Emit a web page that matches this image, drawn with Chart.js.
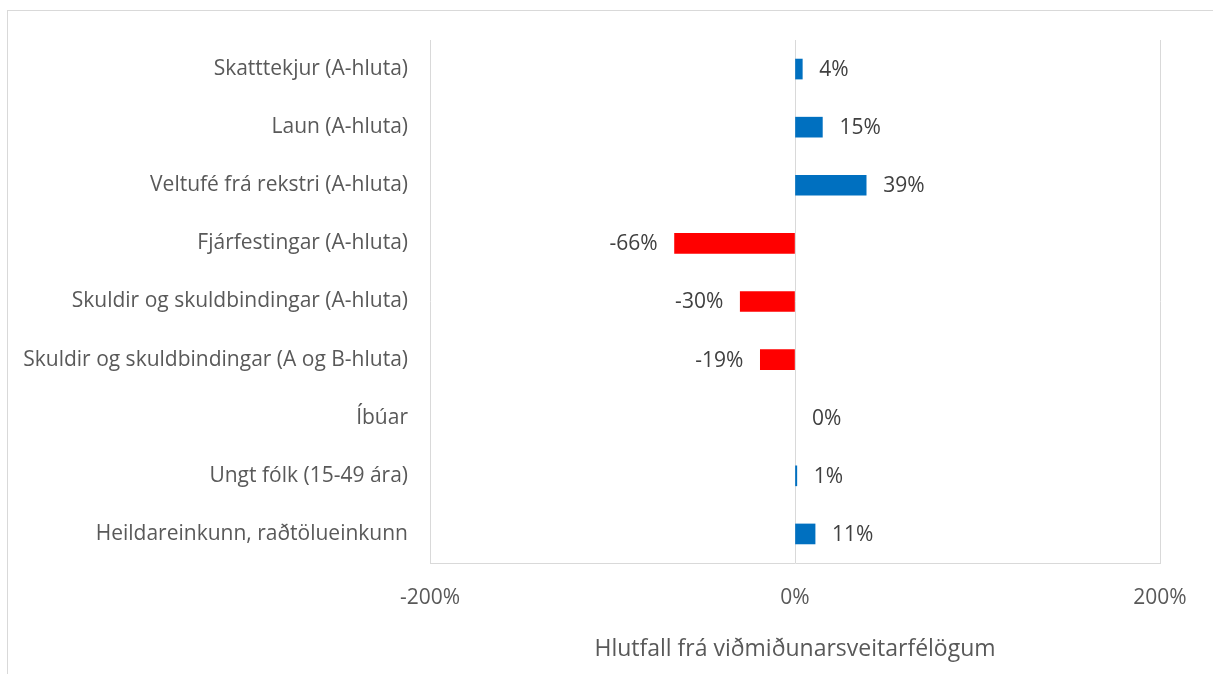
<!DOCTYPE html>
<html>
<head>
<meta charset="utf-8">
<script src="https://cdn.jsdelivr.net/npm/chart.js@4.4.1/dist/chart.umd.min.js"></script>
<style>
  html, body { margin: 0; padding: 0; background: #fff; }
  #frame {
    position: absolute; left: 7px; top: 10px; width: 1220px; height: 680px;
    border-left: 1px solid #d9d9d9; border-top: 1px solid #d9d9d9;
  }
  #wrap { position: absolute; left: 0; top: 0; width: 1213px; height: 674px; }
</style>
</head>
<body>
<div id="frame"></div>
<div id="wrap"><canvas id="chart"></canvas></div>
<script>
// categories, top to bottom
const categories = [
    'Skatttekjur (A-hluta)',
    'Laun (A-hluta)',
    'Veltufé frá rekstri (A-hluta)',
    'Fjárfestingar (A-hluta)',
    'Skuldir og skuldbindingar (A-hluta)',
    'Skuldir og skuldbindingar (A og B-hluta)',
    'Íbúar',
    'Ungt fólk (15-49 ára)',
    'Heildareinkunn, raðtölueinkunn'
];
// percent difference from comparison municipalities
const values = [4, 15, 39, -66, -30, -19, 0, 1, 11];
const xTicks = [-200, 0, 200];
const axisTitle = 'Hlutfall frá viðmiðunarsveitarfélögum';

const FONT = "'Open Sans', sans-serif";

const barColors = values.map(v => v < 0 ? '#FF0000' : (v === 0 ? 'rgba(0,0,0,0)' : '#0070C0'));

// value labels next to the bar ends
const valueLabels = {
    id: 'valueLabels',
    afterDatasetsDraw(chart) {
        const ctx = chart.ctx;
        const meta = chart.getDatasetMeta(0);
        ctx.save();
        ctx.font = '21px ' + FONT;
        ctx.fillStyle = '#404040';
        ctx.textBaseline = 'middle';
        meta.data.forEach((bar, i) => {
            const v = values[i];
            if (v < 0) {
                ctx.textAlign = 'right';
                ctx.fillText(v + '%', bar.x - 17, bar.y + 1);
            } else {
                ctx.textAlign = 'left';
                ctx.fillText(v + '%', bar.x + 17, bar.y + 1);
            }
        });
        ctx.restore();
    }
};

new Chart(document.getElementById('chart'), {
    type: 'bar',
    data: {
        labels: categories,
        datasets: [{
            data: values,
            backgroundColor: barColors,
            barThickness: 20
        }]
    },
    options: {
        indexAxis: 'y',
        responsive: true,
        maintainAspectRatio: false,
        animation: false,
        layout: { padding: { left: 0, right: 53, top: 40, bottom: 0 } },
        plugins: {
            legend: { display: false },
            tooltip: { enabled: false }
        },
        scales: {
            x: {
                min: -200,
                max: 200,
                afterBuildTicks: (scale) => { scale.ticks = xTicks.map(v => ({ value: v })); },
                afterFit: (scale) => { scale.height = 111; },
                grid: { color: '#d9d9d9', lineWidth: 1, drawTicks: false },
                border: { color: '#d9d9d9', width: 1 },
                ticks: {
                    padding: 22,
                    color: '#595959',
                    font: { family: FONT, size: 21 },
                    callback: v => v + '%'
                },
                title: {
                    display: true,
                    text: axisTitle,
                    color: '#595959',
                    font: { family: FONT, size: 23 },
                    padding: { top: 0, bottom: 11 }
                }
            },
            y: {
                afterFit: (scale) => { scale.width = 430; },
                grid: { display: false, drawTicks: false },
                border: { display: false },
                ticks: {
                    padding: 22,
                    color: '#595959',
                    font: { family: FONT, size: 21 }
                }
            }
        }
    },
    plugins: [valueLabels]
});
</script>
</body>
</html>
